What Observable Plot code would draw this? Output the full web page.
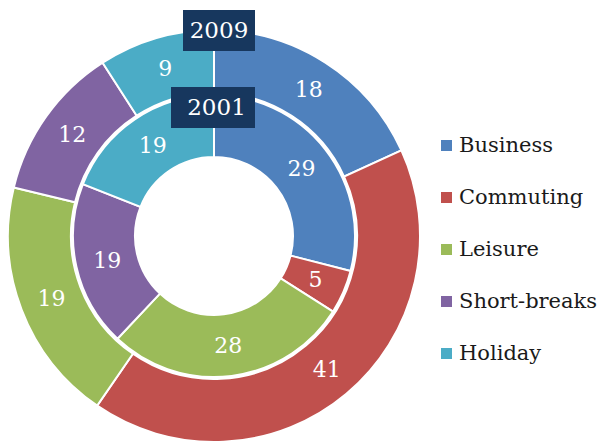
<!DOCTYPE html>
<html>
<head>
<meta charset="utf-8">
<script src="https://cdn.jsdelivr.net/npm/d3@7"></script>
<script src="https://cdn.jsdelivr.net/npm/@observablehq/plot@0.6"></script>
<style>
  html, body { margin: 0; padding: 0; background: #fff; }
  #wrap { position: relative; width: 601px; height: 443px; overflow: hidden; }
  #legend { position: absolute; left: 441px; top: 119px; }
  .item { display: flex; align-items: center; height: 52px; font-size: 21px; color: #1a1a1a; font-family: "DejaVu Serif"; }
  .sw { width: 11px; height: 11px; margin-right: 7px; flex: none; }
</style>
</head>
<body>
<div id="wrap"><div id="legend"></div></div>
<script>
const categories = ["Business", "Commuting", "Leisure", "Short-breaks", "Holiday"];
const values2009 = [18, 41, 19, 12, 9];
const values2001 = [29, 5, 28, 19, 19];
const yearLabels = ["2009", "2001"];
const colors = ["#4F81BD", "#C0504D", "#9BBB59", "#8064A2", "#4BACC6"];

const FONT = "DejaVu Serif";

// ring geometry (in the chart's own units; 1 unit = 1 px)
const rings = [
  {year: "2009", values: values2009, inner: 143, outer: 206},
  {year: "2001", values: values2001, inner: 79, outer: 141}
];

const colorScale = Plot.scale({color: {type: "ordinal", domain: categories, range: colors}});

const slices = rings.flatMap(ring => {
  const arcs = d3.pie().sort(null).value(d => d)(ring.values);
  return arcs.map((a, i) => ({
    year: ring.year, category: categories[i], value: ring.values[i],
    startAngle: a.startAngle, endAngle: a.endAngle,
    inner: ring.inner, outer: ring.outer,
    mid: (a.startAngle + a.endAngle) / 2, rmid: (ring.inner + ring.outer) / 2
  }));
});

function arcMark(data) {
  return (index, scales) => {
    const cx = scales.x(0), cy = scales.y(0);
    const k = scales.x(1) - scales.x(0);
    const arc = d3.arc();
    const g = d3.create("svg:g");
    g.selectAll("path").data(data).join("path")
      .attr("transform", `translate(${cx},${cy})`)
      .attr("d", d => arc({innerRadius: d.inner * k, outerRadius: d.outer * k, startAngle: d.startAngle, endAngle: d.endAngle}))
      .attr("fill", d => colorScale.apply(d.category))
      .attr("stroke", "white")
      .attr("stroke-width", 2)
      .attr("stroke-linejoin", "miter");
    return g.node();
  };
}

function boxMark(r, dx, dy, w, h) {
  return (index, scales) => {
    const x = scales.x(0) + dx, y = scales.y(r) + dy;
    const g = d3.create("svg:g");
    g.append("rect").attr("x", x - w / 2).attr("y", y - h / 2).attr("width", w).attr("height", h).attr("fill", "#17375E");
    return g.node();
  };
}

const chart = Plot.plot({
  width: 601,
  height: 443,
  margin: 0,
  x: {domain: [-206, 206], range: [8, 420], axis: null},
  y: {domain: [-206, 206], range: [442, 30], axis: null},
  style: {fontFamily: FONT, background: "transparent"},
  marks: [
    arcMark(slices),
    Plot.text(slices, {
      x: d => d.rmid * Math.sin(d.mid),
      y: d => d.rmid * Math.cos(d.mid),
      text: d => String(d.value),
      fill: "white",
      fontSize: 22,
      fontFamily: FONT
    }),
    boxMark(rings[0].outer, 5, 0.5, 72, 41),
    Plot.text([yearLabels[0]], {x: 0, y: rings[0].outer, dx: 4.5, dy: 0.5, text: d => d, fill: "white", fontSize: 23, fontFamily: FONT}),
    boxMark(rings[1].outer, -1, 12.5, 84, 41),
    Plot.text([yearLabels[1]], {x: 0, y: rings[1].outer, dx: 2, dy: 12.5, text: d => d, fill: "white", fontSize: 23, fontFamily: FONT})
  ]
});

const wrap = document.getElementById("wrap");
wrap.insertBefore(chart, wrap.firstChild);

const legend = d3.select("#legend");
categories.forEach((c, i) => {
  const item = legend.append("div").attr("class", "item");
  item.append("div").attr("class", "sw").style("background", colorScale.apply(c));
  item.append("span").text(c);
});
</script>
</body>
</html>
